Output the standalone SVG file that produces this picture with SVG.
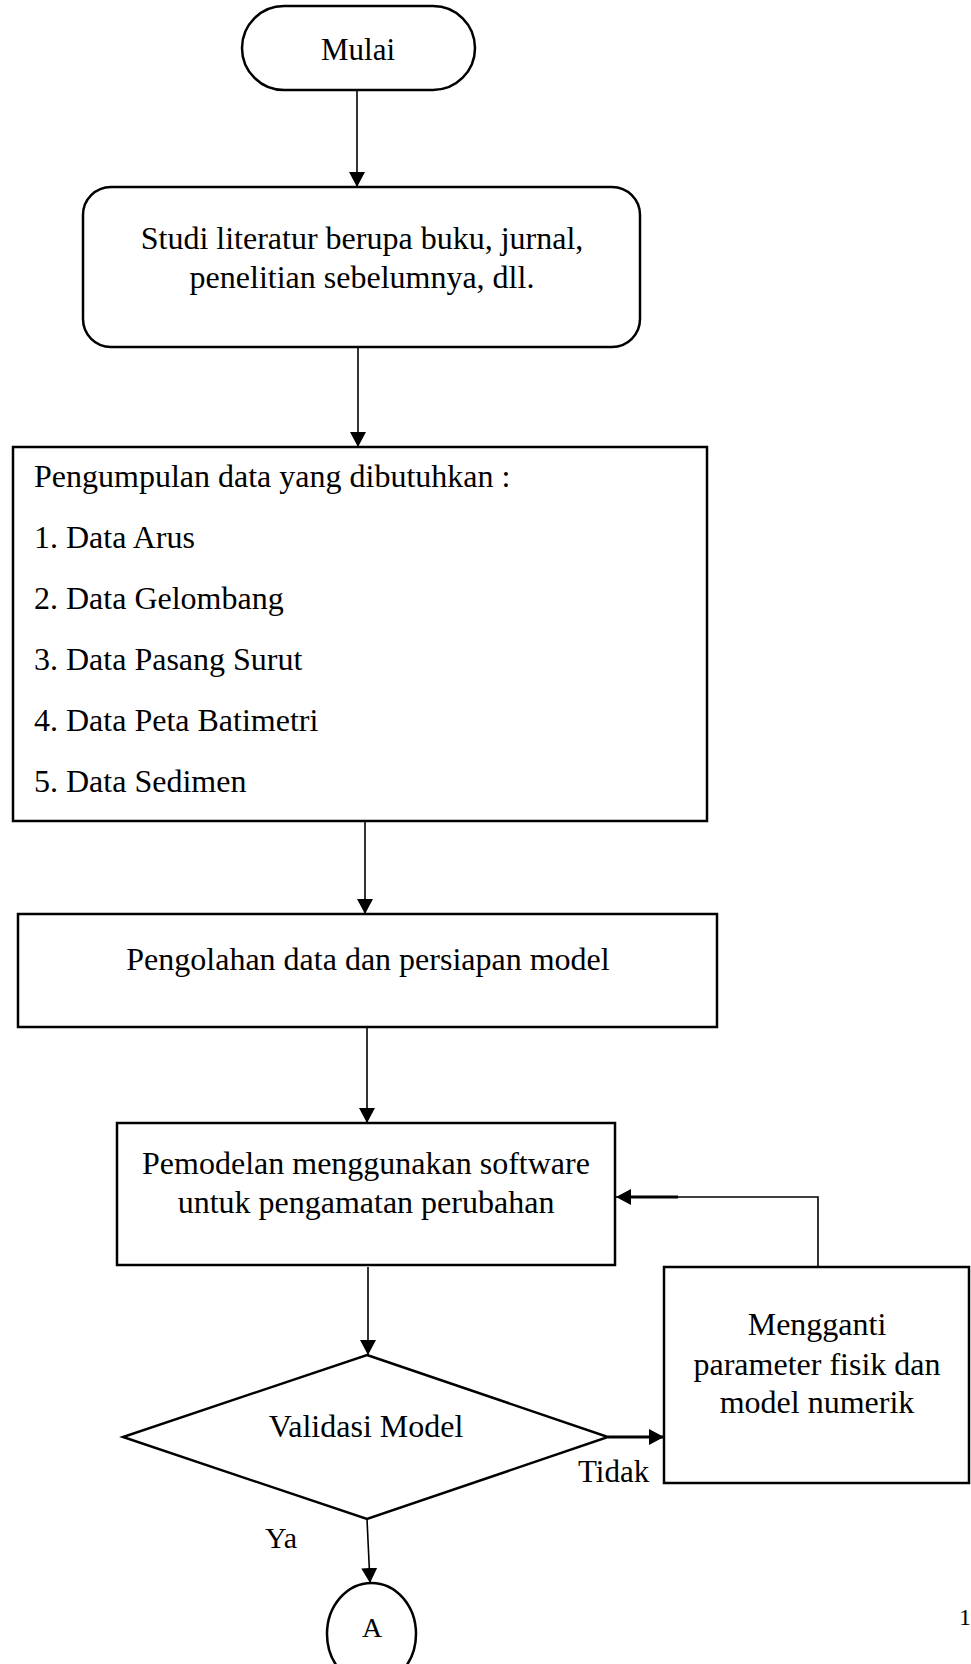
<svg xmlns="http://www.w3.org/2000/svg" width="971" height="1664" viewBox="0 0 971 1664">
<style>
.box{fill:#fff;stroke:#000;stroke-width:2.5}
.t{font-family:"Liberation Serif","Times New Roman",serif;font-size:32px;fill:#000}
.c{text-anchor:middle}
.ln{fill:none;stroke:#000;stroke-width:1.6}
.thick{fill:none;stroke:#000;stroke-width:3}
</style>
<defs>
<marker id="ah" markerUnits="userSpaceOnUse" markerWidth="16" markerHeight="16" refX="15" refY="8" orient="auto" viewBox="0 0 16 16">
<path d="M0,0 L15,8 L0,16 z" fill="#000"/>
</marker>
</defs>
<rect width="971" height="1664" fill="#fff"/>

<g id="connectors">
<path class="ln" d="M357,90 V187" marker-end="url(#ah)"/>
<path class="ln" d="M358,347 V447" marker-end="url(#ah)"/>
<path class="ln" d="M365,817 V914" marker-end="url(#ah)"/>
<path class="ln" d="M367,1027 V1123" marker-end="url(#ah)"/>
<path class="ln" d="M368,1267 V1355" marker-end="url(#ah)"/>
<path class="thick" d="M608,1437 H664" marker-end="url(#ah)"/>
<path class="ln" d="M818,1267 V1197 H616" marker-end="url(#ah)"/>
<path class="thick" d="M625,1197 H678"/>
<path class="ln" d="M367,1519 L370,1583" marker-end="url(#ah)"/>
</g>

<g id="mulai">
<rect class="box" x="242" y="6" width="233" height="84" rx="42" ry="42"/>
<text class="t c" x="358" y="60" style="font-size:31px">Mulai</text>
</g>

<g id="studi">
<rect class="box" x="83" y="187" width="557" height="160" rx="28" ry="28"/>
<text class="t c" x="362" y="249">Studi literatur berupa buku, jurnal,</text>
<text class="t c" x="362" y="288">penelitian sebelumnya, dll.</text>
</g>

<g id="pengumpulan">
<rect class="box" x="13" y="447" width="694" height="374"/>
<text class="t" x="34" y="487">Pengumpulan data yang dibutuhkan :</text>
<text class="t" x="34" y="548">1. Data Arus</text>
<text class="t" x="34" y="609">2. Data Gelombang</text>
<text class="t" x="34" y="670">3. Data Pasang Surut</text>
<text class="t" x="34" y="731">4. Data Peta Batimetri</text>
<text class="t" x="34" y="792">5. Data Sedimen</text>
</g>

<g id="pengolahan">
<rect class="box" x="18" y="914" width="699" height="113"/>
<text class="t c" x="368" y="970">Pengolahan data dan persiapan model</text>
</g>

<g id="pemodelan">
<rect class="box" x="117" y="1123" width="498" height="142"/>
<text class="t c" x="366" y="1174">Pemodelan menggunakan software</text>
<text class="t c" x="366" y="1213">untuk pengamatan perubahan</text>
</g>

<g id="mengganti">
<rect class="box" x="664" y="1267" width="305" height="216"/>
<text class="t c" x="817" y="1335">Mengganti</text>
<text class="t c" x="817" y="1375">parameter fisik dan</text>
<text class="t c" x="817" y="1413">model numerik</text>
</g>

<g id="validasi">
<polygon class="box" points="367,1355 608,1437 367,1519 123,1437"/>
<text class="t c" x="366" y="1437">Validasi Model</text>
</g>

<g id="labels">
<text class="t" x="578" y="1482" style="font-size:31px">Tidak</text>
<text class="t" x="265" y="1548" style="font-size:30px">Ya</text>
<text class="t" x="959" y="1625" style="font-size:24px">1</text>
</g>

<g id="konektorA">
<ellipse class="box" cx="371.5" cy="1634" rx="44.5" ry="51"/>
<text class="t c" x="372" y="1637" style="font-size:28px">A</text>
</g>
</svg>
